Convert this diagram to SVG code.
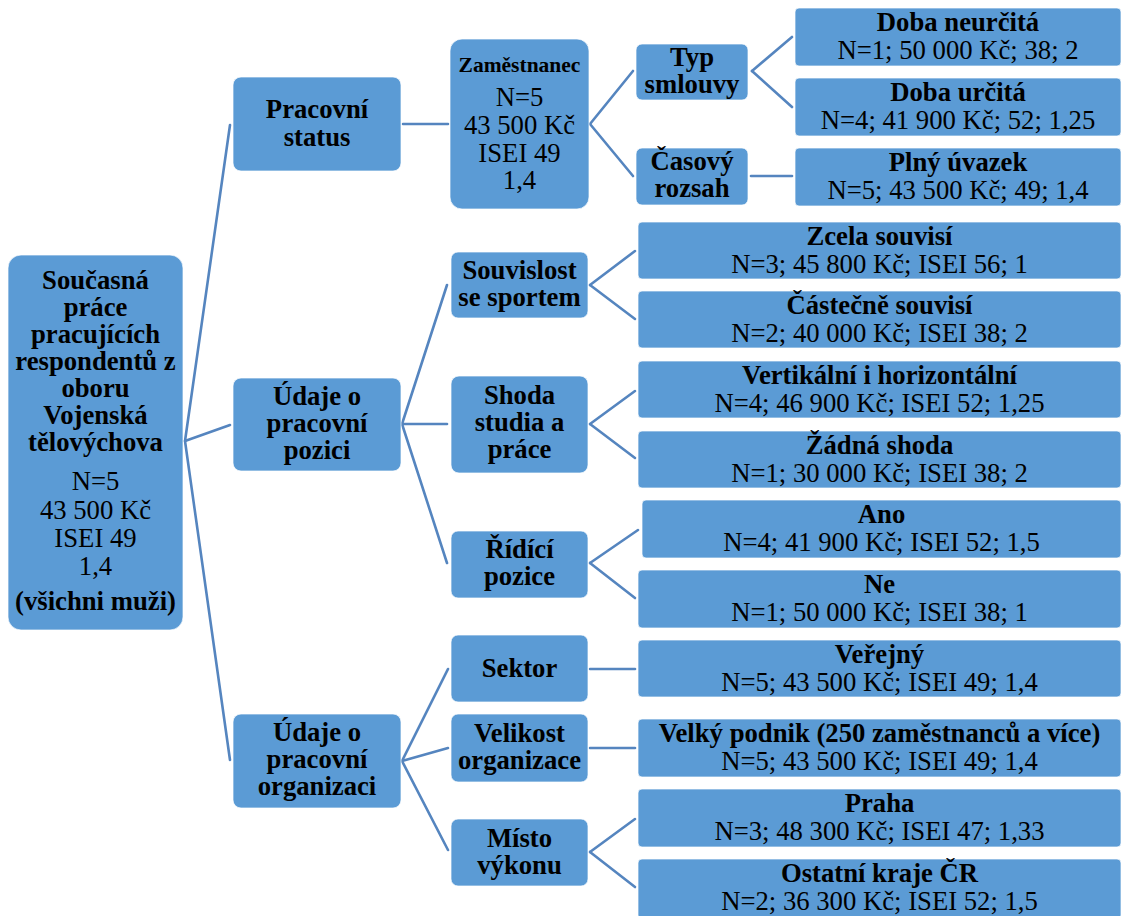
<svg xmlns="http://www.w3.org/2000/svg" width="1122" height="916" viewBox="0 0 1122 916" font-family="'Liberation Serif', 'Times New Roman', Tinos, 'DejaVu Serif', serif">
<style>
.bx{fill:#5b9bd5;stroke:#ffffff;stroke-opacity:0.7;stroke-width:1}
text{font-family:'Liberation Serif','Times New Roman',Tinos,'DejaVu Serif',serif}
.t{font-size:26.7px;fill:#000;text-anchor:middle}
.b{font-weight:bold}
.s{font-size:21.5px}
.c line{stroke:#5585bf;stroke-width:2.6;stroke-linecap:round}
</style>
<rect width="1122" height="916" fill="#ffffff"/>
<g class="c" id="connectors">
<line x1="185" y1="441" x2="230" y2="125"/>
<line x1="185" y1="441" x2="230" y2="425"/>
<line x1="185" y1="441" x2="230" y2="760"/>
<line x1="403" y1="124" x2="448" y2="124"/>
<line x1="590" y1="124" x2="633" y2="71"/>
<line x1="590" y1="124" x2="633" y2="176"/>
<line x1="752" y1="71" x2="792" y2="37"/>
<line x1="752" y1="71" x2="792" y2="107"/>
<line x1="751" y1="176" x2="792" y2="176"/>
<line x1="402" y1="424" x2="447" y2="285"/>
<line x1="402" y1="424" x2="447" y2="424"/>
<line x1="402" y1="424" x2="447" y2="563"/>
<line x1="590" y1="285" x2="635" y2="251"/>
<line x1="590" y1="285" x2="635" y2="319"/>
<line x1="590" y1="424" x2="635" y2="391"/>
<line x1="590" y1="424" x2="635" y2="458"/>
<line x1="590" y1="563" x2="638" y2="530"/>
<line x1="590" y1="563" x2="635" y2="598"/>
<line x1="402" y1="761" x2="448" y2="669"/>
<line x1="402" y1="761" x2="448" y2="748"/>
<line x1="402" y1="761" x2="448" y2="850"/>
<line x1="590" y1="669" x2="635" y2="669"/>
<line x1="590" y1="748" x2="635" y2="748"/>
<line x1="590" y1="852" x2="635" y2="819"/>
<line x1="590" y1="852" x2="635" y2="887"/>
</g>
<g id="root">
<rect class="bx" x="8" y="255" width="175" height="375" rx="13"/>
<text class="t b" x="95.5" y="289">Současná</text>
<text class="t b" x="95.5" y="316">práce</text>
<text class="t b" x="95.5" y="343">pracujících</text>
<text class="t b" x="95.5" y="370">respondentů z</text>
<text class="t b" x="95.5" y="397">oboru</text>
<text class="t b" x="95.5" y="424">Vojenská</text>
<text class="t b" x="95.5" y="451">tělovýchova</text>
<text class="t" x="95.5" y="490">N=5</text>
<text class="t" x="95.5" y="519">43 500 Kč</text>
<text class="t" x="95.5" y="547">ISEI 49</text>
<text class="t" x="95.5" y="575">1,4</text>
<text class="t b" x="95.5" y="610">(všichni muži)</text>
</g>
<g id="pracovni-status">
<rect class="bx" x="233" y="77" width="168" height="94" rx="8"/>
<text class="t b" x="317" y="118">Pracovní</text>
<text class="t b" x="317" y="146">status</text>
</g>
<g id="udaje-pozice">
<rect class="bx" x="233" y="378" width="168" height="93" rx="8"/>
<text class="t b" x="317" y="405">Údaje o</text>
<text class="t b" x="317" y="432">pracovní</text>
<text class="t b" x="317" y="459">pozici</text>
</g>
<g id="udaje-organizace">
<rect class="bx" x="233" y="714" width="168" height="94" rx="8"/>
<text class="t b" x="317" y="741">Údaje o</text>
<text class="t b" x="317" y="768">pracovní</text>
<text class="t b" x="317" y="795">organizaci</text>
</g>
<g id="zamestnanec">
<rect class="bx" x="450" y="39" width="139" height="170" rx="12"/>
<text class="t b s" x="519.5" y="72">Zaměstnanec</text>
<text class="t" x="519.5" y="106">N=5</text>
<text class="t" x="519.5" y="134">43 500 Kč</text>
<text class="t" x="519.5" y="162">ISEI 49</text>
<text class="t" x="519.5" y="189">1,4</text>
</g>
<g id="typ-smlouvy">
<rect class="bx" x="636" y="44" width="112" height="56" rx="6"/>
<text class="t b" x="692" y="66">Typ</text>
<text class="t b" x="692" y="93">smlouvy</text>
</g>
<g id="casovy-rozsah">
<rect class="bx" x="636" y="148" width="112" height="57" rx="6"/>
<text class="t b" x="692" y="170">Časový</text>
<text class="t b" x="692" y="197">rozsah</text>
</g>
<g id="souvislost">
<rect class="bx" x="451" y="252" width="137" height="66" rx="7"/>
<text class="t b" x="519.5" y="279">Souvislost</text>
<text class="t b" x="519.5" y="306">se sportem</text>
</g>
<g id="shoda">
<rect class="bx" x="451" y="376" width="137" height="97" rx="8"/>
<text class="t b" x="519.5" y="404">Shoda</text>
<text class="t b" x="519.5" y="431">studia a</text>
<text class="t b" x="519.5" y="458">práce</text>
</g>
<g id="ridici">
<rect class="bx" x="451" y="531" width="137" height="67" rx="7"/>
<text class="t b" x="519.5" y="558">Řídící</text>
<text class="t b" x="519.5" y="585">pozice</text>
</g>
<g id="sektor">
<rect class="bx" x="451" y="635" width="137" height="67" rx="7"/>
<text class="t b" x="519.5" y="677">Sektor</text>
</g>
<g id="velikost">
<rect class="bx" x="451" y="714" width="137" height="68" rx="7"/>
<text class="t b" x="519.5" y="742">Velikost</text>
<text class="t b" x="519.5" y="769">organizace</text>
</g>
<g id="misto">
<rect class="bx" x="451" y="819" width="137" height="67" rx="7"/>
<text class="t b" x="519.5" y="847">Místo</text>
<text class="t b" x="519.5" y="874">výkonu</text>
</g>
<g id="doba-neurcita">
<rect class="bx" x="795" y="8" width="326" height="58" rx="4"/>
<text class="t b" x="958" y="31">Doba neurčitá</text>
<text class="t" x="958" y="59">N=1; 50 000 Kč; 38; 2</text>
</g>
<g id="doba-urcita">
<rect class="bx" x="795" y="78" width="326" height="58" rx="4"/>
<text class="t b" x="958" y="101">Doba určitá</text>
<text class="t" x="958" y="129">N=4; 41 900 Kč; 52; 1,25</text>
</g>
<g id="plny-uvazek">
<rect class="bx" x="795" y="148" width="326" height="58" rx="4"/>
<text class="t b" x="958" y="171">Plný úvazek</text>
<text class="t" x="958" y="199">N=5; 43 500 Kč; 49; 1,4</text>
</g>
<g id="zcela">
<rect class="bx" x="638" y="222" width="483" height="57" rx="4"/>
<text class="t b" x="879.5" y="245">Zcela souvisí</text>
<text class="t" x="879.5" y="273">N=3; 45 800 Kč; ISEI 56; 1</text>
</g>
<g id="castecne">
<rect class="bx" x="638" y="291" width="483" height="57" rx="4"/>
<text class="t b" x="879.5" y="314">Částečně souvisí</text>
<text class="t" x="879.5" y="342">N=2; 40 000 Kč; ISEI 38; 2</text>
</g>
<g id="vertikalni">
<rect class="bx" x="638" y="361" width="483" height="57" rx="4"/>
<text class="t b" x="879.5" y="384">Vertikální i horizontální</text>
<text class="t" x="879.5" y="412">N=4; 46 900 Kč; ISEI 52; 1,25</text>
</g>
<g id="zadna">
<rect class="bx" x="638" y="431" width="483" height="57" rx="4"/>
<text class="t b" x="879.5" y="454">Žádná shoda</text>
<text class="t" x="879.5" y="482">N=1; 30 000 Kč; ISEI 38; 2</text>
</g>
<g id="ano">
<rect class="bx" x="642" y="500" width="479" height="58" rx="4"/>
<text class="t b" x="881.5" y="523">Ano</text>
<text class="t" x="881.5" y="551">N=4; 41 900 Kč; ISEI 52; 1,5</text>
</g>
<g id="ne">
<rect class="bx" x="638" y="570" width="483" height="58" rx="4"/>
<text class="t b" x="879.5" y="593">Ne</text>
<text class="t" x="879.5" y="621">N=1; 50 000 Kč; ISEI 38; 1</text>
</g>
<g id="verejny">
<rect class="bx" x="638" y="640" width="483" height="57" rx="4"/>
<text class="t b" x="879.5" y="663">Veřejný</text>
<text class="t" x="879.5" y="691">N=5; 43 500 Kč; ISEI 49; 1,4</text>
</g>
<g id="velky-podnik">
<rect class="bx" x="638" y="719" width="483" height="58" rx="4"/>
<text class="t b" x="879.5" y="742">Velký podnik (250 zaměstnanců a více)</text>
<text class="t" x="879.5" y="770">N=5; 43 500 Kč; ISEI 49; 1,4</text>
</g>
<g id="praha">
<rect class="bx" x="638" y="789" width="483" height="58" rx="4"/>
<text class="t b" x="879.5" y="812">Praha</text>
<text class="t" x="879.5" y="840">N=3; 48 300 Kč; ISEI 47; 1,33</text>
</g>
<g id="ostatni">
<rect class="bx" x="638" y="859" width="483" height="60" rx="4"/>
<text class="t b" x="879.5" y="882">Ostatní kraje ČR</text>
<text class="t" x="879.5" y="910">N=2; 36 300 Kč; ISEI 52; 1,5</text>
</g>
</svg>
